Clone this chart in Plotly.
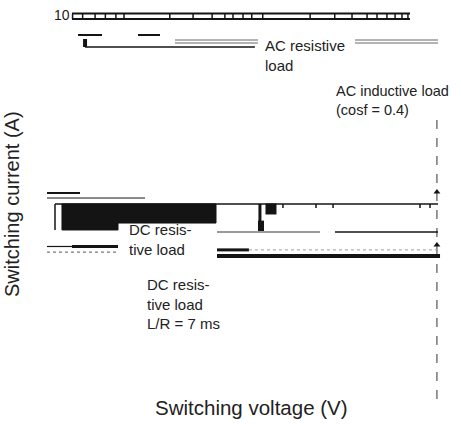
import math
import plotly.graph_objects as go

# ---------------- data (V, A) ----------------
# top row of the chart at 10 A (box row with log ticks)
top_x_range = [1.585, 505.6]
top_upper_y = 10.27
top_lower_y = 9.32
top_tick_v = [1.6, 1.9, 2.35, 2.8, 3.35, 3.85, 8.4, 12.5, 17.3, 21.5, 24.7,
              29.3, 34, 41, 92, 140, 188, 243, 288, 341, 392, 441, 488]

# AC resistive load
ac_res_gray_x = [[9.18, 37.8], [197.8, 815]]
ac_res_gray_y = [6.42, 6.09]
ac_res_black_x = [1.98, 35.9]
ac_res_black_y = 5.67
ac_res_stub_x = [1.98, 1.98]
ac_res_stub_y = [6.54, 5.67]
ac_short_x = [[1.756, 2.644], [4.886, 7.11]]
ac_short_y = 7.02

# AC inductive load limit (dashed vertical)
ac_ind_x = [800, 800]
ac_ind_y = [1.557, 0.0109]
ac_ind_mark_y = [0.435, 0.170]

# DC resistive load
dc_block_x = [1.336, 18.48, 18.48, 3.473, 3.473, 1.336, 1.336]
dc_block_y = [0.352, 0.352, 0.251, 0.251, 0.222, 0.222, 0.352]
dc_top_x = [1.186, 815]
dc_top_y = 0.352
dc_top_ticks_v = [57.9, 101.7, 136, 599.5, 711]
dc_top_ticks_y = [0.352, 0.3276]
dc_left_a_x = [1.035, 1.817]
dc_left_a_y = 0.428
dc_left_b_x = [1.035, 5.505]
dc_left_b_y = 0.391
dc_edge_x = [1.186, 1.186]
dc_edge_y = [0.352, 0.222]
dc_knee_x = [39.1, 39.1]
dc_knee_y = [0.352, 0.251]
dc_knee2_x = [39.8, 39.8]
dc_knee2_y = [0.262, 0.214]
dc_knee_sq = (47.2, 0.322)
dc_mid_gray_x = [18.8, 108.9]
dc_mid_black_x = [140.6, 815]
dc_mid_y = 0.214

# DC inductive load L/R = 7 ms
dcl_short_x = [18.8, 32.4]
dcl_short_y = 0.156
dcl_dot_x = [32.4, 815]
dcl_long_x = [18.8, 843.6]
dcl_long_y = 0.140
dcl_left_x = [1.585, 3.473]
dcl_left_thin_x = [1.035, 1.585]
dcl_left_y = 0.1657
dcl_left_dot_x = [1.035, 3.473]
dcl_left_dot_y = 0.150

# labels: text, left x (V), middle y (A), font size
labels = [
    ("AC resistive<br>load", 41.2, 4.88, 15),
    ("AC inductive load<br>(cosf = 0.4)", 138.3, 2.2, 14.5),
    ("DC resis-<br>tive load", 4.05, 0.186, 15),
    ("DC resis-<br>tive load<br>L/R = 7 ms", 5.505, 0.0598, 15),
]
x_title = "Switching voltage (V)"
y_title = "Switching current (A)"
y_tick_vals = [10]
y_tick_text = ["10"]
y_tick_label_x = 1.12   # voltage where the "10" label starts

BLACK = "#141414"
GRAY = "#9a9a9a"
FONT = "Liberation Sans, Arial, sans-serif"
Y_RANGE = [-2.0385, 1.0385]

fig = go.Figure()


def line(xs, ys, color=BLACK, width=1.5, dash="solid"):
    fig.add_trace(go.Scatter(x=xs, y=ys, mode="lines",
                             line=dict(color=color, width=width, dash=dash),
                             hoverinfo="skip", showlegend=False))


# top row
line(top_x_range, [top_upper_y] * 2, width=1.8)
line(top_x_range, [top_lower_y] * 2, width=1.8)
tx, ty = [], []
for v in top_tick_v:
    tx += [v, v, None]
    ty += [top_upper_y, top_lower_y, None]
line(tx, ty, width=1.5)

# AC resistive
for seg in ac_res_gray_x:
    for yv in ac_res_gray_y:
        line(seg, [yv, yv], color=GRAY, width=1.6)
line(ac_res_black_x, [ac_res_black_y] * 2, width=1.5)
line(ac_res_stub_x, ac_res_stub_y, width=4)
for seg in ac_short_x:
    line(seg, [ac_short_y] * 2, width=2)

# AC inductive dashed limit
line(ac_ind_x, ac_ind_y, color="#555555", width=1.2, dash="dash")
fig.add_trace(go.Scatter(x=[ac_ind_x[0]] * 2, y=ac_ind_mark_y, mode="markers",
                         marker=dict(symbol="triangle-up", size=6, color=BLACK),
                         hoverinfo="skip", showlegend=False))

# DC resistive
fig.add_trace(go.Scatter(x=dc_block_x, y=dc_block_y, mode="lines", fill="toself",
                         fillcolor=BLACK, line=dict(color=BLACK, width=1),
                         hoverinfo="skip", showlegend=False))
line(dc_top_x, [dc_top_y] * 2, width=1.5)
sx, sy = [], []
for v in dc_top_ticks_v:
    sx += [v, v, None]
    sy += dc_top_ticks_y + [None]
line(sx, sy, width=1.5)
line(dc_left_a_x, [dc_left_a_y] * 2, width=2)
line(dc_left_b_x, [dc_left_b_y] * 2, width=1)
line(dc_edge_x, dc_edge_y, width=1.5)
line(dc_knee_x, dc_knee_y, width=3)
line(dc_knee2_x, dc_knee2_y, width=6)
fig.add_trace(go.Scatter(x=[dc_knee_sq[0]], y=[dc_knee_sq[1]], mode="markers",
                         marker=dict(symbol="square", size=11, color=BLACK),
                         hoverinfo="skip", showlegend=False))
line(dc_mid_gray_x, [dc_mid_y] * 2, color=GRAY, width=2)
line(dc_mid_black_x, [dc_mid_y] * 2, width=1.5)

# DC L/R = 7 ms
line(dcl_short_x, [dcl_short_y] * 2, width=3)
line(dcl_dot_x, [dcl_short_y] * 2, color=GRAY, width=1, dash="dot")
line(dcl_long_x, [dcl_long_y] * 2, width=4)
line(dcl_left_x, [dcl_left_y] * 2, width=3)
line(dcl_left_thin_x, [dcl_left_y] * 2, width=1.2)
line(dcl_left_dot_x, [dcl_left_dot_y] * 2, color="#555555", width=1, dash="dot")

annotations = []
for text, xv, yv, fs in labels:
    annotations.append(dict(text=text, x=math.log10(xv), y=math.log10(yv),
                            xref="x", yref="y", xanchor="left", yanchor="middle",
                            align="left", showarrow=False,
                            font=dict(family=FONT, size=fs, color="#222222")))
# y tick label "10"
for tv, tt in zip(y_tick_vals, y_tick_text):
    annotations.append(dict(text=tt, x=math.log10(y_tick_label_x), y=math.log10(tv),
                            xref="x", yref="y", xanchor="left", yanchor="middle",
                            showarrow=False,
                            font=dict(family="Liberation Sans Narrow, Liberation Sans, sans-serif",
                                      size=14, color="#1a1a1a")))
annotations.append(dict(text=x_title, x=0.511, y=0.0075, xref="paper", yref="paper",
                        xanchor="center", yanchor="middle", showarrow=False,
                        font=dict(family=FONT, size=20.5, color="#222222")))
annotations.append(dict(text=y_title, x=-0.0815, y=0.515, xref="paper", yref="paper",
                        xanchor="center", yanchor="middle", textangle=-90,
                        showarrow=False,
                        font=dict(family=FONT, size=20, color="#222222")))

fig.update_layout(
    width=461, height=424,
    margin=dict(l=45, r=11, t=10, b=14),
    paper_bgcolor="white", plot_bgcolor="white",
    showlegend=False,
    annotations=annotations,
    xaxis=dict(type="log", range=[0, 3], showgrid=False, zeroline=False,
               showline=False, showticklabels=False, ticks=""),
    yaxis=dict(type="log", range=Y_RANGE, showgrid=False, zeroline=False,
               showline=False, showticklabels=False, ticks=""),
)

fig.write_html("out.html", config={"displayModeBar": False},
               post_script="document.body.style.margin='0';")
